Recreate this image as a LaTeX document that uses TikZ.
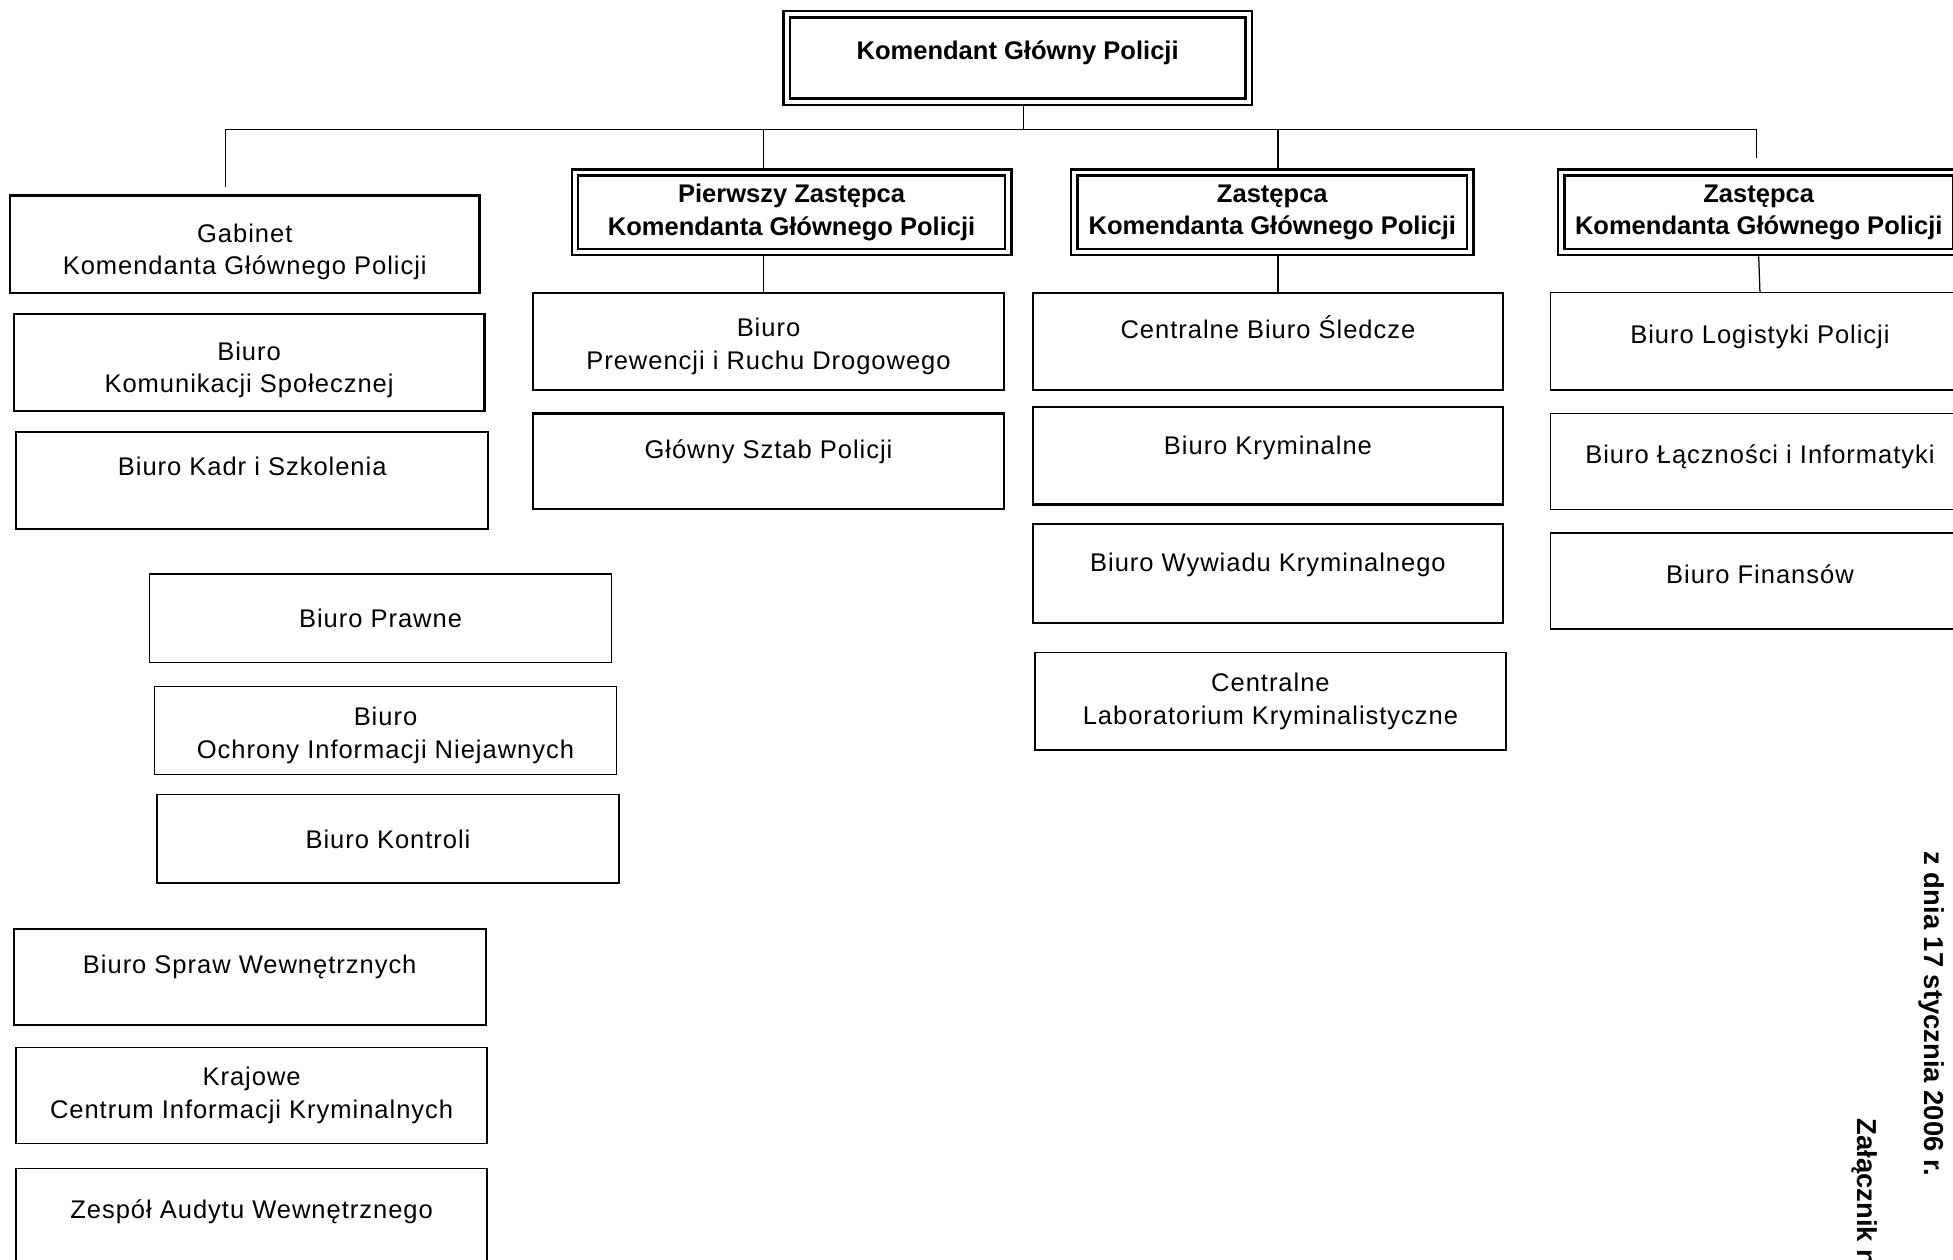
\documentclass[tikz,border=0pt]{standalone}
\usepackage{fontspec}
\setmainfont{Liberation Sans}
\newfontfamily\officefont[LetterSpace=3.8]{Liberation Sans}
\newcommand{\topgap}[1]{\rule{0pt}{#1}}
\usetikzlibrary{calc}

\begin{document}
\begin{tikzpicture}[x=1pt,y=-1pt,
  office/.style={draw, line width=1.7pt, inner sep=0pt, align=center, font=\officefont\fontsize{20.5}{26}\selectfont},
  lightbox/.style={office, line width=1.2pt},
  chief/.style={draw, line width=1.8pt, double=white, double distance=3.2pt, outer sep=3.4pt, inner sep=0pt, align=center, font=\bfseries\fontsize{20.5}{26}\selectfont},
  lift/.style={text height=15pt, text depth=#1},
  link/.style={line width=1pt},
  note/.style={rotate=-90, inner sep=0pt, font=\bfseries\fontsize{22}{26}\selectfont}]
\useasboundingbox (0,0) rectangle (1568,1011);

%Chief boxes
\node[chief, minimum width=371pt, minimum height=70pt, lift=13pt] (kgp) at (817,46.5) {Komendant Główny Policji};
\node[chief, minimum width=348pt, minimum height=64pt] (pz) at (635.5,170.5) {Pierwszy Zastępca\\Komendanta Głównego Policji};
\node[chief, minimum width=318pt, minimum height=64pt] (z1) at (1021.5,170.5) {Zastępca\\Komendanta Głównego Policji};
\node[chief, minimum width=317pt, minimum height=64pt] (z2) at (1412,170.5) {Zastępca\\Komendanta Głównego Policji};

%Left column
\node[office, minimum width=377pt, minimum height=78pt] (gab) at (196.5,196) {\topgap{27pt}Gabinet\\Komendanta Głównego Policji};
\node[office, minimum width=378pt, minimum height=78pt] (kom) at (200,291) {\topgap{27pt}Biuro\\Komunikacji Społecznej};
\node[office, minimum width=379pt, minimum height=78pt, lift=24pt] (kadr) at (202.5,386) {Biuro Kadr i Szkolenia};
\node[lightbox, minimum width=371pt, minimum height=71pt] (praw) at (305.5,496.5) {Biuro Prawne};
\node[lightbox, minimum width=371pt, minimum height=71pt] (ochr) at (309.5,586.5) {\topgap{23pt}Biuro\\Ochrony Informacji Niejawnych};
\node[lightbox, minimum width=371pt, minimum height=71pt] (kontr) at (311.5,673.5) {Biuro Kontroli};
\node[office, minimum width=379pt, minimum height=77pt, lift=21pt] (spraw) at (200.5,784.5) {Biuro Spraw Wewnętrznych};
\node[lightbox, minimum width=378pt, minimum height=77pt] (kraj) at (202,879.5) {Krajowe\\Centrum Informacji Kryminalnych};
\node[lightbox, minimum width=378pt, minimum height=77pt, lift=11pt] (zesp) at (202,976.5) {Zespół Audytu Wewnętrznego};

%First deputy
\node[office, minimum width=378pt, minimum height=78pt] (prew) at (617,274) {\topgap{23pt}Biuro\\Prewencji i Ruchu Drogowego};
\node[office, minimum width=378pt, minimum height=77pt, lift=19pt] (szt) at (617,370.5) {Główny Sztab Policji};

%Deputy 1
\node[office, minimum width=378pt, minimum height=78pt, lift=20pt] (cbs) at (1018,274) {Centralne Biuro Śledcze};
\node[office, minimum width=378pt, minimum height=78pt, lift=18pt] (bkr) at (1018,366) {Biuro Kryminalne};
\node[office, minimum width=378pt, minimum height=79pt, lift=19pt] (bwk) at (1018,460.5) {Biuro Wywiadu Kryminalnego};
\node[lightbox, minimum width=378pt, minimum height=78pt] (clk) at (1020,563) {Centralne\\Laboratorium Kryminalistyczne};

%Deputy 2
\node[lightbox, minimum width=336pt, minimum height=78pt, lift=12pt] (blp) at (1413,274) {Biuro Logistyki Policji};
\node[lightbox, minimum width=336pt, minimum height=77pt, lift=11pt] (bli) at (1413,370.5) {Biuro Łączności i Informatyki};
\node[lightbox, minimum width=336pt, minimum height=77pt, lift=11pt] (bf) at (1413,466.5) {Biuro Finansów};

%Straight Lines
\coordinate (top) at (822,104);
\coordinate (gabc) at (181,104);
\coordinate (gabend) at (181,150);
\coordinate (pzc) at (613,104);
\coordinate (z1c) at (1026,104);
\coordinate (z2c) at (1410,104);
\coordinate (z2end) at (1410,127);
\draw[link] (kgp.south -| top) -- (top);
\draw[link] (gabend) -- (gabc) -- (z2c) -- (z2end);
\draw[link] (pzc) -- (pzc |- pz.north);
\draw[link] (pzc |- pz.south) -- (pzc |- prew.north);
\draw[link] (z1c) -- (z1c |- z1.north);
\draw[link] (z1c |- z1.south) -- (z1c |- cbs.north);
\draw[link] (z2.south) -- (blp.north);

% Text Node
\node[note] (date) at (1551,814) {z dnia 17 stycznia 2006 r.};
\node[note, anchor=west] (annex) at (1497,898) {Załącznik n};

\end{tikzpicture}
\end{document}
